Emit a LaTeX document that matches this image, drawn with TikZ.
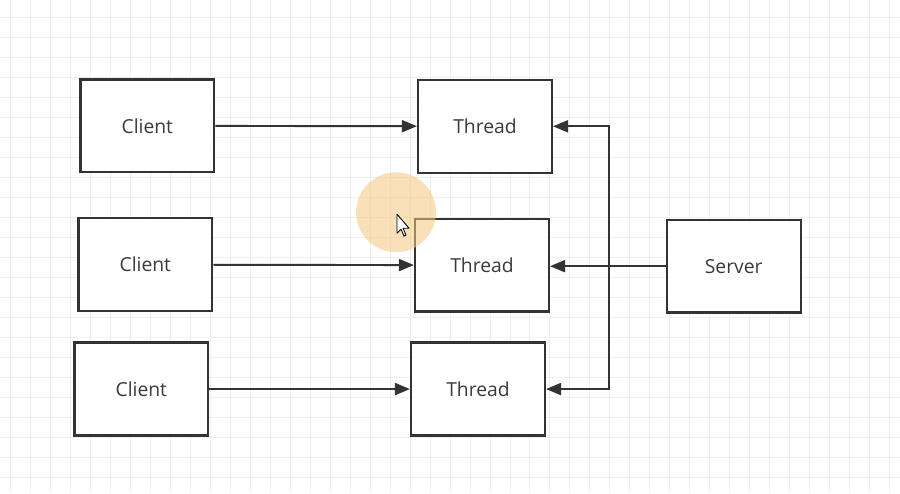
\documentclass[tikz,border=0pt]{standalone}
\usepackage{fontspec}
\setmainfont{Open Sans}
\usepackage{tikz}
\usetikzlibrary{arrows.meta, positioning, calc}
\usepackage{xcolor}
\definecolor{mline}{HTML}{333333}
\definecolor{mtext}{HTML}{3A3A3A}
\definecolor{mgrid}{HTML}{EFEFEF}
\definecolor{mhalo}{HTML}{F5C77E}
\tikzset{
  cbox/.style={draw=mline, fill=white, line width=1.3pt,
               minimum width=2.68cm, minimum height=1.86cm,
               font=\fontsize{11}{13}\selectfont, text=mtext, inner sep=0pt},
  arr/.style={-{Triangle[length=0.3cm, width=0.24cm]}, line width=1.1pt, mline},
}

\begin{document}
\begin{tikzpicture}[x=0.02cm, y=-0.02cm]
  % background grid
  \fill[white] (0,0) rectangle (900,493);
  \draw[mgrid, line width=0.5pt] \foreach \gx in {10,30,...,890} {(\gx,0) -- (\gx,493)};
  \draw[mgrid, line width=0.5pt] \foreach \gy in {17,37,...,490} {(0,\gy) -- (900,\gy)};
  \useasboundingbox (0,0) rectangle (900,493);

  % clients
  \node[cbox] (cl1) at (147,125.5) {Client};
  \node[cbox] (cl2) at (145,264.5) {Client};
  \node[cbox] (cl3) at (141,389) {Client};

  % threads
  \node[cbox] (th1) at (485,126) {Thread};
  \node[cbox] (th2) at (482,265) {Thread};
  \node[cbox] (th3) at (478,389) {Thread};

  % server
  \node[cbox] (srv) at (734,266) {Server};

  \draw[arr] (cl1) -- (th1);
  \draw[arr] (cl2) -- (th2);
  \draw[arr] (cl3) -- (th3);

  \coordinate (bus) at (609,266);
  \draw[arr] (srv.west) -- (th2.east |- srv.west);
  \draw[arr] (bus) -- (bus |- th1.east) -- (th1.east);
  \draw[arr] (bus) -- (bus |- th3.east) -- (th3.east);

  % cursor highlight
  \fill[mhalo, fill opacity=0.55] (396,212) circle (40);
  \draw[black, fill=white, line width=0.5pt, line join=round]
    (397,214) -- (397,233) -- (401,229) -- (404,236) -- (406,235)
    -- (403,228) -- (409,228) -- cycle;
\end{tikzpicture}
\end{document}
